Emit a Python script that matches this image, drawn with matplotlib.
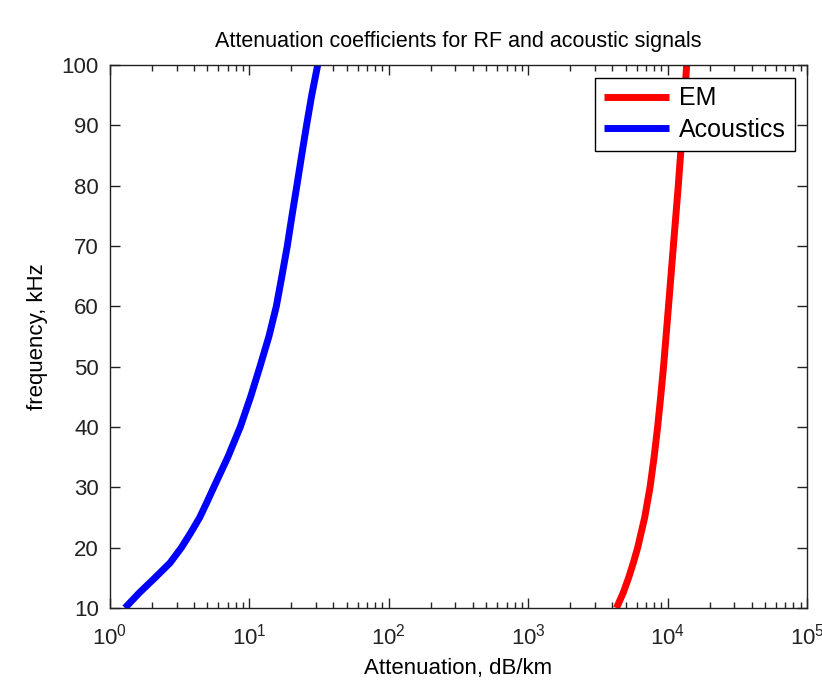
import matplotlib
matplotlib.use("Agg")
import matplotlib.pyplot as plt
from matplotlib.ticker import LogLocator, FixedLocator

plt.rcParams['font.family'] = ['Liberation Sans', 'DejaVu Sans']
plt.rcParams['mathtext.fontset'] = 'custom'
plt.rcParams['mathtext.rm'] = 'Liberation Sans'

# Acoustic attenuation (dB/km) vs frequency (kHz)
freq_ac = [10, 12.5, 15, 17.5, 20, 22.5, 25, 27.5, 30, 35, 40, 45, 50,
           55, 60, 65, 70, 75, 80, 85, 90, 95, 100]
acoustic_db_km = [1.28, 1.62, 2.1, 2.7, 3.25, 3.8, 4.4, 4.95, 5.55, 7.0, 8.6, 10.2, 11.9,
                  13.8, 15.6, 17.1, 18.7, 20.2, 21.9, 23.7, 25.7, 28.0, 30.9]

# EM attenuation (dB/km) vs frequency (kHz)
freq_em = [10, 12.5, 15, 17.5, 20, 25, 30, 35, 40, 45, 50, 60, 70, 80, 90, 100]
em_db_km = [4300, 4800, 5250, 5680, 6100, 6850, 7480, 8000, 8480, 8920, 9350, 10150, 11000,
            11930, 12830, 13700]

title = "Attenuation coefficients for RF and acoustic signals"
xlabel = "Attenuation, dB/km"
ylabel = "frequency, kHz"
yticks = [10, 20, 30, 40, 50, 60, 70, 80, 90, 100]

fig = plt.figure(figsize=(8.22, 6.82), dpi=100)
ax = fig.add_axes([110/822, 74/682, 697/822, 543/682])

ax.plot(em_db_km, freq_em, color='#ff0000', lw=5, label='EM', solid_capstyle='butt')
ax.plot(acoustic_db_km, freq_ac, color='#0000ff', lw=5, label='Acoustics', solid_capstyle='butt')

ax.set_xscale('log')
ax.set_xlim(1, 1e5)
ax.set_ylim(10, 100)
ax.yaxis.set_major_locator(FixedLocator(yticks))
ax.xaxis.set_major_locator(LogLocator(base=10, numticks=10))
ax.xaxis.set_minor_locator(LogLocator(base=10, subs=range(2, 10), numticks=20))

ax.tick_params(which='both', direction='in', top=True, right=True, labelsize=16, colors='#222222')
ax.tick_params(which='major', length=7, width=1)
ax.tick_params(which='minor', length=4, width=1)
ax.tick_params(axis='x', which='both', pad=11)
ax.tick_params(axis='y', which='both', pad=8)
for s in ax.spines.values():
    s.set_color('#222222')
    s.set_linewidth(1)

ax.set_title(title, fontsize=15.5, pad=13)
ax.set_xlabel(xlabel, fontsize=16, labelpad=6)
ax.set_ylabel(ylabel, fontsize=16, labelpad=10)

leg = ax.legend(loc='upper right', fontsize=18, frameon=True, fancybox=False,
                edgecolor='black', framealpha=1, handlelength=2.6,
                borderaxespad=0.5, borderpad=0.35, labelspacing=0.3, handletextpad=0.4)
leg.get_frame().set_linewidth(1)

fig.savefig('out.png', dpi=100)
